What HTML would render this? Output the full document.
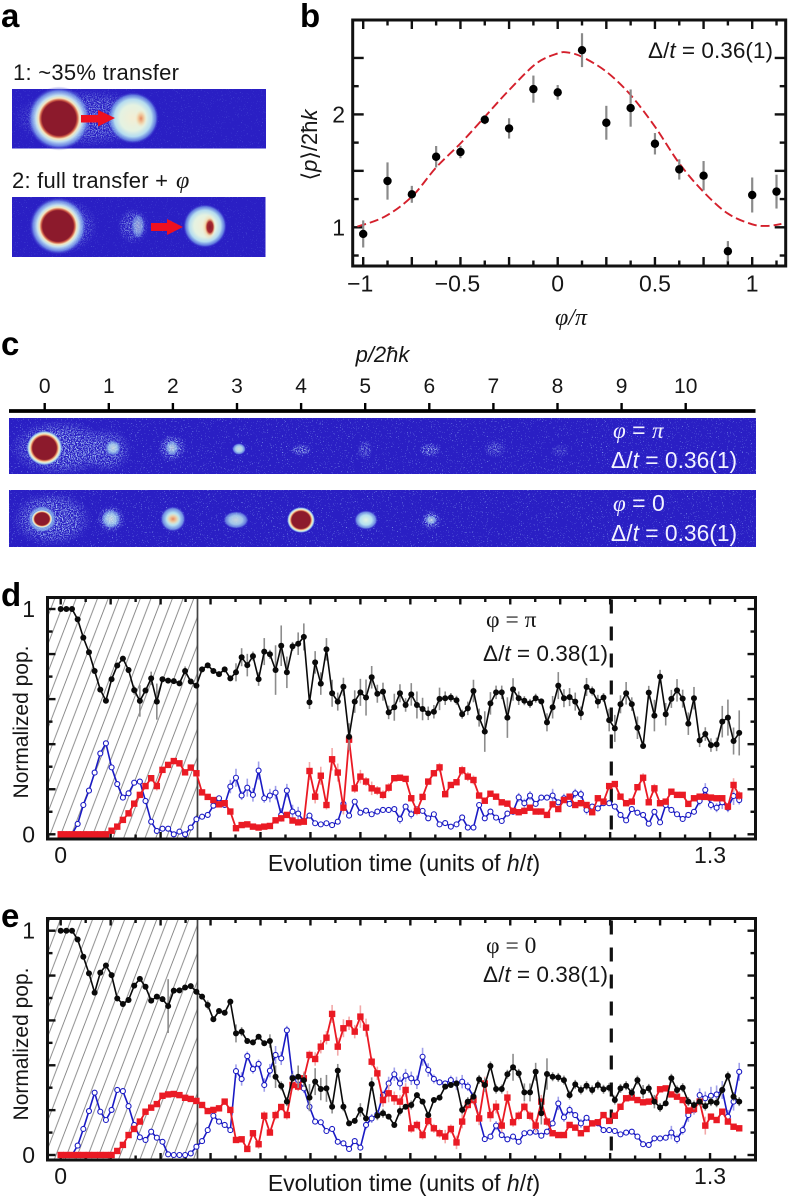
<!DOCTYPE html>
<html>
<head>
<meta charset="utf-8">
<title>Panels a-e</title>
<style>
html,body{margin:0;padding:0;background:#fff;}
svg{display:block;}
text{font-family:"Liberation Sans","DejaVu Sans",sans-serif;fill:#161616;}
.serif{font-family:"Liberation Serif","DejaVu Serif",serif;}
.plabel{font-weight:bold;font-size:33px;fill:#000;}
.it{font-style:italic;}
.white{fill:#f2f2ff;}
</style>
</head>
<body>
<svg id="fig" xmlns="http://www.w3.org/2000/svg" width="788" height="1197" viewBox="0 0 788 1197">
<defs>
<radialGradient id="core"><stop offset="0" stop-color="#8c1a2c"/><stop offset=".66" stop-color="#8c1a2c"/><stop offset=".72" stop-color="#d8704f"/><stop offset=".8" stop-color="#f8e8bc"/><stop offset=".88" stop-color="#bfe2ee"/><stop offset=".95" stop-color="#6f90e2" stop-opacity=".8"/><stop offset="1" stop-color="#2a1fc4" stop-opacity="0"/></radialGradient>
<radialGradient id="coreWide"><stop offset="0" stop-color="#8c1a2c"/><stop offset=".53" stop-color="#8c1a2c"/><stop offset=".58" stop-color="#d06048"/><stop offset=".64" stop-color="#f6e6be"/><stop offset=".72" stop-color="#c4e2f0"/><stop offset=".86" stop-color="#7c9eec" stop-opacity=".8"/><stop offset="1" stop-color="#2a1fc4" stop-opacity="0"/></radialGradient>
<radialGradient id="cream"><stop offset="0" stop-color="#f4eed4"/><stop offset=".5" stop-color="#e4f2e2"/><stop offset=".72" stop-color="#b4dcf0"/><stop offset=".88" stop-color="#6f92e6" stop-opacity=".8"/><stop offset="1" stop-color="#2a1fc4" stop-opacity="0"/></radialGradient>
<radialGradient id="pale"><stop offset="0" stop-color="#e2f4e4"/><stop offset=".5" stop-color="#b4e0f0"/><stop offset=".8" stop-color="#7fa6ea" stop-opacity=".8"/><stop offset="1" stop-color="#2a1fc4" stop-opacity="0"/></radialGradient>
<radialGradient id="halo"><stop offset="0" stop-color="#b8d4f6"/><stop offset=".6" stop-color="#a0bdf2" stop-opacity=".9"/><stop offset="1" stop-color="#8ea6ee" stop-opacity="0"/></radialGradient>
<radialGradient id="warm"><stop offset="0" stop-color="#e6885e"/><stop offset=".5" stop-color="#f2c596" stop-opacity=".8"/><stop offset="1" stop-color="#f6e8c0" stop-opacity="0"/></radialGradient>
<radialGradient id="dark"><stop offset="0" stop-color="#8c1a2c"/><stop offset=".6" stop-color="#a82a30"/><stop offset="1" stop-color="#e89a60" stop-opacity="0"/></radialGradient>
<filter id="speck" x="-10%" y="-10%" width="120%" height="120%"><feTurbulence type="fractalNoise" baseFrequency=".85" numOctaves="2" seed="4" result="n"/><feColorMatrix in="n" type="matrix" values="0 0 0 0 1 0 0 0 0 1 0 0 0 0 1 0 0 0 9 -4.5" result="t"/><feComposite in="SourceGraphic" in2="t" operator="in"/></filter>
<filter id="sparse" x="0" y="0" width="100%" height="100%"><feTurbulence type="fractalNoise" baseFrequency=".8" numOctaves="2" seed="9" result="n"/><feColorMatrix in="n" type="matrix" values="0 0 0 0 1 0 0 0 0 1 0 0 0 0 1 0 0 0 14 -9.6" result="t"/><feComposite in="SourceGraphic" in2="t" operator="in"/></filter>
<pattern id="hatch" patternUnits="userSpaceOnUse" width="10.7" height="28" patternTransform="translate(48 0)"><line x1="-5.35" y1="42" x2="5.35" y2="14" stroke="#808080" stroke-width=".9"/><line x1="5.35" y1="42" x2="16.05" y2="14" stroke="#808080" stroke-width=".9"/><line x1="-5.35" y1="14" x2="5.35" y2="-14" stroke="#808080" stroke-width=".9"/><line x1="5.35" y1="14" x2="16.05" y2="-14" stroke="#808080" stroke-width=".9"/></pattern>
</defs>

<text class="plabel" x="1" y="27">a</text>
<text class="plabel" x="300" y="27">b</text>
<text class="plabel" x="1" y="355">c</text>
<text class="plabel" x="1" y="606">d</text>
<text class="plabel" x="1" y="927">e</text>

<!-- panel a -->
<g>
<text x="13" y="80" font-size="22" textLength="166">1: ~35% transfer</text>
<rect x="12" y="89" width="254" height="59.500" fill="#2a1fc4"/>
<rect x="12" y="89" width="254" height="59.500" fill="#7f9bee" opacity=".35" filter="url(#sparse)"/>
<ellipse cx="85" cy="118" rx="72" ry="29" fill="url(#halo)" opacity=".8" filter="url(#speck)"/>
<ellipse cx="59" cy="118.500" rx="32" ry="32" fill="url(#coreWide)"/>
<ellipse cx="133" cy="118" rx="26" ry="26" fill="url(#cream)"/>
<ellipse cx="141" cy="118.500" rx="6" ry="9" fill="url(#warm)"/>
<polygon points="81,115 98,115 98,110 115,118 98,126.500 98,122.500 81,122.500" fill="#ee1020"/>

<text x="12" y="188" font-size="22" textLength="156">2: full transfer +</text>
<text class="serif it" x="176" y="188" font-size="24">φ</text>
<rect x="12" y="197" width="253.500" height="60" fill="#2a1fc4"/>
<rect x="12" y="197" width="253.500" height="60" fill="#7f9bee" opacity=".35" filter="url(#sparse)"/>
<ellipse cx="64" cy="226" rx="34" ry="28" fill="url(#halo)" opacity=".75" filter="url(#speck)"/>
<ellipse cx="58" cy="226" rx="29" ry="29" fill="url(#coreWide)"/>
<ellipse cx="133" cy="226" rx="16" ry="18" fill="url(#halo)" opacity=".7" filter="url(#speck)"/>
<ellipse cx="138" cy="226" rx="7" ry="13" fill="url(#pale)" opacity=".55"/>
<ellipse cx="205" cy="226" rx="22" ry="22" fill="url(#cream)"/>
<ellipse cx="209" cy="227" rx="7" ry="13" fill="url(#warm)"/>
<ellipse cx="210" cy="227" rx="5" ry="9" fill="url(#dark)"/>
<polygon points="151,223 167,223 167,219 183,227 167,235 167,231 151,231" fill="#ee1020"/>
</g>

<!-- panel c -->
<g>
<text class="it" x="382.500" y="362" font-size="22" text-anchor="middle">p/2ħk</text>
<rect x="9" y="418" width="747" height="56" fill="#2a1fc4"/>
<rect x="9" y="490" width="747" height="57" fill="#2a1fc4"/>
<rect x="9" y="418" width="747" height="56" fill="#8ca8f0" opacity=".8" filter="url(#sparse)"/>
<rect x="9" y="490" width="747" height="57" fill="#8ca8f0" opacity=".8" filter="url(#sparse)"/>
<g>
<ellipse cx="60" cy="448" rx="50" ry="28" fill="url(#halo)" filter="url(#speck)"/>
<ellipse cx="44.500" cy="448" rx="18" ry="17.500" fill="url(#core)"/>
<ellipse cx="106" cy="450" rx="26" ry="22" fill="url(#halo)" opacity=".8" filter="url(#speck)"/>
<ellipse cx="113" cy="448" rx="8" ry="8" fill="url(#pale)" opacity=".8"/>
<ellipse cx="172" cy="448" rx="14" ry="14" fill="url(#halo)" filter="url(#speck)"/>
<ellipse cx="172" cy="448" rx="7" ry="8" fill="url(#pale)" opacity=".7"/>
<ellipse cx="239" cy="449" rx="7" ry="6" fill="url(#pale)" opacity=".9"/>
<ellipse cx="301" cy="450" rx="11" ry="6" fill="url(#halo)" filter="url(#speck)"/>
<ellipse cx="365" cy="450" rx="8" ry="10" fill="url(#halo)" opacity=".6" filter="url(#speck)"/>
<ellipse cx="430" cy="450" rx="11" ry="7" fill="url(#halo)" filter="url(#speck)"/>
<ellipse cx="495" cy="449" rx="11" ry="9" fill="url(#halo)" opacity=".6" filter="url(#speck)"/>
<ellipse cx="560" cy="451" rx="9" ry="7" fill="url(#halo)" opacity=".4" filter="url(#speck)"/>
</g>
<g>
<ellipse cx="52" cy="519" rx="40" ry="27" fill="url(#halo)" filter="url(#speck)"/>
<ellipse cx="42" cy="519" rx="15" ry="14" fill="url(#pale)"/>
<ellipse cx="42" cy="519" rx="11" ry="9.500" fill="url(#core)"/>
<ellipse cx="111" cy="519" rx="14" ry="14" fill="url(#halo)" filter="url(#speck)"/>
<ellipse cx="111" cy="519" rx="10" ry="10" fill="url(#pale)" opacity=".8"/>
<ellipse cx="173" cy="519" rx="13" ry="13" fill="url(#pale)"/>
<ellipse cx="173" cy="519" rx="7" ry="6" fill="url(#warm)"/>
<ellipse cx="236" cy="520" rx="13" ry="9" fill="url(#pale)" opacity=".85"/>
<ellipse cx="301" cy="520" rx="14" ry="13" fill="url(#core)"/>
<ellipse cx="366" cy="520" rx="12" ry="10" fill="url(#pale)"/>
<ellipse cx="431" cy="520" rx="10" ry="10" fill="url(#halo)" filter="url(#speck)"/>
<ellipse cx="431" cy="520" rx="6" ry="5" fill="url(#pale)" opacity=".7"/>
</g>
<text class="white" x="613" y="438" font-size="23" xml:space="preserve"><tspan class="serif it white">φ</tspan><tspan class="white"> = </tspan><tspan class="serif it white">π</tspan></text>
<text class="white" x="611" y="468" font-size="22.800"><tspan class="white">Δ/</tspan><tspan class="it white">t</tspan><tspan class="white"> = 0.36(1)</tspan></text>
<text class="white" x="613" y="511" font-size="23" xml:space="preserve"><tspan class="serif it white">φ</tspan><tspan class="white"> = 0</tspan></text>
<text class="white" x="611" y="541" font-size="22.800"><tspan class="white">Δ/</tspan><tspan class="it white">t</tspan><tspan class="white"> = 0.36(1)</tspan></text>
<g id="c-axis"></g>
</g>

<g id="panel-b"></g>
<g id="panel-d"></g>
<g id="panel-e"></g>
</svg>

<script>
// ---- panel b data ----
const phiValues = [-1,-0.875,-0.75,-0.625,-0.5,-0.375,-0.25,-0.125,0,0.125,0.25,0.375,0.5,0.625,0.75,0.875,1,1.125];
const momentumValues = [0.941,1.41,1.292,1.625,1.667,1.953,1.876,2.224,2.195,2.569,1.926,2.056,1.74,1.513,1.457,0.788,1.286,1.316];
const momentumErrors = [0.12,0.165,0.075,0.095,0.055,0.04,0.09,0.12,0.065,0.15,0.15,0.165,0.095,0.09,0.13,0.09,0.155,0.15];
const fitPhi = [-1.03,-0.89,-0.75,-0.625,-0.5,-0.375,-0.25,-0.11,0,0.05,0.125,0.25,0.375,0.5,0.625,0.75,0.875,1,1.08,1.15];
const fitMomentum = [1.006,1.094,1.271,1.53,1.743,1.979,2.215,2.451,2.54,2.549,2.51,2.379,2.172,1.891,1.566,1.313,1.121,1.027,1.012,1.03];
const phiTickLabels = [-1,-0.5,0,0.5,1];
const momentumTickLabels = [1,2];

// ---- panel c axis ----
const orderLabels = [0,1,2,3,4,5,6,7,8,9,10];

// ---- panels d, e shared axes ----
const timeStep = 0.01132;
const timeTickLabels = [0,1.3];
const popTickLabels = [0,1];

// ---- panel d series (percent of population) ----
const dBlack = [100,100,100,95.4,87.3,80.8,72.5,64.2,59.3,68.8,
74.9,78,72.9,64,59.2,63.8,69.2,58.9,68.8,68.2,
68,67,72.5,67.8,66,73.2,75,72.5,71.1,73.2,
69.2,71.9,78.6,75.1,79.1,68.9,81.1,79.9,72.9,83.7,
71.9,83.4,84.6,87.6,58.6,76.3,66.9,82.1,62.6,58.9,
65.5,43.3,58.9,63,60.7,69.7,62.4,63.3,54.1,56.4,
62.6,57.4,62.1,57.4,55.6,53.7,54.4,60.1,60.4,60.7,
59.5,53.3,55.9,63.6,51.8,45.6,58.1,63,63,51.8,
64.3,60.4,59.3,58.1,60.4,59,49.7,56.4,66,60.4,
60.9,58.9,53.7,65.4,63.6,58.9,60.7,50.7,47,57.7,
62.6,57.8,47.3,39.2,62.9,52.7,70,53.3,60.1,63.9,
60.2,49.1,60.4,41.7,44.5,39.6,39.9,50,51.8,41.4,45];
const dRed = [0,0,0,0,0,0,0,0,0,1.6,
3.4,6.4,9.3,13.6,17.5,21.4,24.9,21.4,28.6,30.8,
32.5,31.5,27.5,29.6,27.1,18.6,16.6,15.2,13.3,13.8,
10.1,2.7,4.1,4.4,3.4,3,3.4,3.7,6.2,7.1,
8.6,6.1,5.3,5.6,28.1,16.7,26,13,33.3,27.4,
11.8,42,20.4,25.6,23.4,20.4,19.4,17.5,20.7,24.9,
25.1,24.6,16,10.4,16.6,23.4,27.1,29.7,17.8,21.9,
23.1,28.4,25.6,24.1,17.2,14.9,18,16.7,14.2,13.6,
10.4,9.8,10.4,11.8,10.1,10.1,8.6,13.3,11.2,15.2,
16.7,13,13.8,13,9.8,16,14.5,21.4,22.3,16.7,
13.8,14.5,20.9,25.1,14.2,20.4,13.8,14.5,18.9,17.5,
17.5,13.5,16,16.7,16.6,16.3,16,16,12.3,21.9,17.2];
const dBlue = [0,0,0,4.6,13,19.4,27.4,35.9,40.4,29.7,
22.3,16.3,18.2,22.9,23.4,14.8,5.6,1.5,2.5,2.5,
0,1.2,0,3,6.7,7.8,8.6,12.7,16,13,
21.2,25.1,17.2,20.7,17.5,28.3,16,17.2,18.5,8.6,
19.4,10.1,9.2,5.9,8.3,4.9,4.4,4.9,4.1,5.6,
13.5,8.3,14.5,9.6,10.5,8.9,10.1,10.8,10.8,11.2,
6.7,12.3,8.9,11.2,10.4,7.1,8.9,4.4,5,3.4,
4.4,7.5,3,3,13,7.1,10.1,7.4,5.9,9.2,
10,16.4,13.8,17.2,13.5,16.3,16.3,17.2,14.2,16,
13.5,18.2,17.8,10.8,12.3,11.5,13.8,13.8,12.3,8.6,
6.2,11.2,9.6,8.6,4.7,10,5.3,13,10.8,8.9,
6.8,8.6,10,14.8,19.7,13,11.8,14.2,11.8,17,15.2];
const dBlackErr = [0,0,0,1,1,1,1,1,1,1,
1,1,1,2,7,1,3,8,1,1,
1,1,2,1,1,1,1,1,1,1,
1,4,4,5,2,3,6,2,11,9,
7,2,5,6,3,5,5,5,6,4,
4,6,5,6,8,5,4,4,3,6,
4,3,5,6,5,3,3,5,3,2,
2,2,3,5,4,9,5,3,3,9,
5,3,2,2,2,1,4,5,6,4,
4,4,3,4,2,3,2,5,6,4,
5,3,5,1,3,7,3,5,4,5,
4,5,5,3,3,3,3,7,8,6,10];
const dRedErr = [0,0,0,0,0,0,0,0,0,1,
1,1,1,1,1,1,1,2,1,1,
1,1,1,1,1,1,1,1,1,1,
1,1,1,1,1,1,1,1,1,1,
1,1,1,1,4,3,4,2,5,4,
3,2,2,3,2,3,2,2,2,1,
1,1,1,2,1,1,1,2,1,1,
1,2,2,2,1,1,1,1,1,1,
1,1,1,1,1,1,1,1,1,1,
1,1,1,1,1,1,1,1,1,1,
1,1,1,2,1,2,1,1,1,1,
1,1,1,1,1,1,1,1,1,3,2];
const dBlueErr = [0,0,0,1,1,1,1,1,1,1,
1,1,1,1,1,1,1,1,1,1,
1,1,1,1,1,1,1,1,1,1,
3,4,2,4,3,4,2,3,3,3,
3,3,3,1,1,1,1,1,1,1,
1,1,1,1,1,1,1,1,1,1,
2,1,2,1,1,1,1,1,1,1,
1,1,1,1,1,1,1,1,1,1,
1,2,2,2,1,1,1,3,1,2,
1,2,2,2,1,1,1,1,1,1,
1,1,1,1,1,1,1,1,1,1,
1,1,1,2,3,2,2,3,2,4,2];

// ---- panel e series (percent of population) ----
const eBlack = [100,100,100,96.1,88.4,81,72.4,81.3,84.5,80.2,
69.8,67.3,69.1,75.5,78.5,75,68.8,70.6,69.5,66.4,
73.3,73.4,74.7,75.3,72.8,70.6,66.9,60.5,64.2,63.4,
68.4,54.2,55,50.8,50.2,52.7,49.8,50.8,34.9,30.8,
23.8,34.2,34.9,33.4,25.6,32.7,29.4,29.7,21.5,37.6,
21.5,14.1,15.2,20.1,16.3,31.6,17.5,18.6,17.1,13.4,
19.6,21.5,22.3,26.7,23.8,17.8,24.5,25.6,30.5,31.2,
31.9,20.1,23.8,26,33.7,31.2,39.7,29.4,29.4,36,
39.1,36.4,27.9,27.9,37.1,18.6,36.1,34.9,34.6,33.4,
26.7,31.5,29,30.9,29,31.2,29.3,30,24.5,29.7,
30.9,27.8,33.4,28.2,29.7,23.8,21.2,23,34.2,29,
30,23.8,22.3,23.8,21.8,23.8,23.3,29,35.2,26,23.8];
const eRed = [0,0,0,0,0,0,0,0,0,0,
1.8,4.5,8.9,11.6,14.9,19.3,21.1,22.7,26.4,27,
27.2,26.7,25.5,25,24.1,22.3,19.6,20.1,20.8,23.8,
20.1,6.7,7,2.7,9.7,4.8,17.5,10,17.8,21.4,
17.8,31.2,30.5,34.2,44.6,42.8,48.3,52.3,62.9,48.3,
56.5,58.7,55,61.7,56.8,41.6,36.4,24.5,27.5,25.3,
23.8,29,11.9,13.4,8.9,15.2,11.9,9.7,8.2,11.6,
5.6,14.9,22.3,24.5,16.3,31.9,17.8,21.5,13.1,25.6,
14.6,17.5,21.5,17.5,13.1,23.8,14.9,9.7,8.9,8.9,
13.4,12.2,9.7,11.6,14.1,14.6,17.8,15.2,17.5,21.5,
25.3,25.6,24.5,23.5,23.8,24.5,29.3,29.7,27,26,
24.5,19.8,20.5,23.8,13.1,17.1,15.6,19.3,14.9,12.6,11.9];
const eBlue = [0,0,0,4.2,11.6,19.6,27.8,19.3,15.6,20.1,
29,28.5,21.8,13.4,7.9,6.7,10.4,7.7,5.9,0.3,
0,0,0,0.7,3.7,6.2,11.1,17.5,14.9,13.4,
11.1,37.4,33.9,44.1,38.3,40.6,31.2,37.6,44.6,43.1,
55.6,34.5,33.4,29.7,21.5,14.9,14.6,10.7,11.6,5.9,
5.2,2.7,6.2,3.3,13.4,16.3,18.1,26.7,31.9,36,
31.9,35.4,34.2,32.4,43.8,37.9,33.9,32.4,31.9,33.4,
31.9,32.7,30.5,26,16.3,7.1,8.2,13.1,8.9,7,
8.2,5.9,9.7,10,10.4,8.6,10.4,14.1,23,16.8,
20.1,17.8,14.1,16.6,14.1,14.1,11.1,11.1,10.7,9.2,
10,10.4,8.2,4.8,4.5,7.4,7.4,7.7,10,7.1,
11.1,17.8,20,26.7,25.3,26.4,27,29,17.1,23.8,37.1];
const eBlackErr = [0,0,0,1,1,1,1,1,1,1,
1,1,1,1,1,1,1,1,1,12,
1,1,1,1,1,1,2,1,1,1,
1,4,2,1,1,1,1,3,5,2,
2,2,5,3,6,6,5,6,3,3,
2,1,1,3,1,3,2,2,1,1,
2,1,2,1,1,1,1,1,1,1,
1,2,2,2,2,3,2,2,2,2,
6,2,4,4,4,5,7,2,2,2,
2,2,2,2,2,2,2,2,2,2,
2,2,2,3,2,3,2,1,2,2,
2,2,2,2,2,2,2,2,2,2,2];
const eRedErr = [0,0,0,0,0,0,0,0,0,0,
1,1,1,1,1,1,1,1,1,1,
1,1,1,1,1,1,1,1,1,1,
1,1,1,1,1,2,2,1,2,1,
2,2,2,3,2,3,3,3,4,4,
4,3,3,5,4,2,3,3,4,3,
3,3,2,2,2,2,2,2,3,2,
3,3,2,2,3,3,3,3,3,3,
2,2,2,2,3,3,2,1,1,1,
1,1,1,1,1,1,1,1,1,1,
1,1,1,1,1,1,1,1,1,1,
1,1,2,2,4,1,1,1,1,1,1];
const eBlueErr = [0,0,0,1,1,1,1,1,1,1,
1,1,1,1,1,1,1,1,1,0,
0,0,0,1,1,1,1,1,1,1,
1,3,3,2,2,2,3,3,4,3,
2,3,3,2,2,1,1,1,1,1,
1,1,1,1,2,2,2,2,3,3,
3,3,3,3,4,3,2,1,1,2,
3,3,2,2,1,1,1,2,1,1,
1,1,1,1,1,1,1,1,3,2,
2,1,2,1,1,1,1,1,1,1,
1,1,1,1,1,1,1,1,3,2,
2,3,2,3,3,4,4,4,3,4,4];

const NS = 'http://www.w3.org/2000/svg';

function mark(tag, parent, name) {
  const el = document.createElementNS(NS, tag);
  
  
  parent.appendChild(el);
  return el;
}
function attrs(el, map) {
  for (const k in map) el.setAttribute(k, map[k]);
  return el;
}
function line(parent, name, x1, y1, x2, y2, stroke, w) {
  return attrs(mark('line', parent, name), {x1, y1, x2, y2, stroke, 'stroke-width': w});
}
function label(parent, name, x, y, str, anchor, size) {
  const t = attrs(mark('text', parent, name), {x, y, 'text-anchor': anchor, 'font-size': size});
  t.textContent = str;
  return t;
}
function fmt(v) { return String(v).replace('-', '\u2212'); }

// ---------- panel c axis ----------
(function () {
  const g = document.getElementById('c-axis');
  const xOrder = n => 44.7 + 64.1 * n;
  line(g, 'momentum-axis-line', 9, 411, 755.5, 411, '#000', 3.8);
  orderLabels.forEach(n => {
    line(g, 'momentum-tick-' + n, xOrder(n), 403, xOrder(n), 411, '#000', 2.4);
    label(g, 'momentum-tick-label-' + n, xOrder(n), 393, String(n), 'middle', 21);
  });
})();

// ---------- panel b ----------
(function () {
  const g = document.getElementById('panel-b');
  const L = 352.7, R = 785.7, T = 20, B = 266;
  const xs = v => 557.7 + 194.5 * v;
  const ys = v => 227.3 - 112.9 * (v - 1);
  for (let i = -8; i <= 9; i++) {
    const v = i * 0.125, x = xs(v), len = (i % 2 === 0) ? 9 : 5.5;
    line(g, 'x-tick-bottom', x, B, x, B - len, '#111', 2.4);
    line(g, 'x-tick-top', x, T, x, T + len, '#111', 2.4);
  }
  for (let i = 3; i <= 10; i++) {
    const v = i * 0.25, y = ys(v), len = (i % 2 === 0) ? 11 : 6;
    line(g, 'y-tick-left', L, y, L + len, y, '#111', 2.4);
    line(g, 'y-tick-right', R, y, R - len, y, '#111', 2.4);
  }
  const fr = mark('rect', g, 'plot-frame');
  attrs(fr, {x: L, y: T, width: R - L, height: B - T, fill: 'none', stroke: '#111', 'stroke-width': 3});

  phiTickLabels.forEach(v => label(g, 'x-tick-label', xs(v) + (v < 0 ? -3 : 0), 291.5, fmt(v), 'middle', 23));
  momentumTickLabels.forEach(v => label(g, 'y-tick-label', 345, ys(v) + 8, String(v), 'end', 23));

  const xt = label(g, 'x-axis-title', 571, 325, '\u03C6/\u03C0', 'middle', 24);
  xt.setAttribute('class', 'serif it');
  const yt = label(g, 'y-axis-title', 0, 0, '', 'middle', 22);
  yt.innerHTML = '\u27E8<tspan font-style="italic">p</tspan>\u27E9/2\u0127<tspan font-style="italic">k</tspan>';
  yt.setAttribute('transform', 'translate(317 145) rotate(-90)');

  // smooth path through the curve values
  const P = fitPhi.map((p, i) => [xs(p), ys(fitMomentum[i])]);
  let d = 'M' + P[0][0].toFixed(1) + ' ' + P[0][1].toFixed(1);
  for (let i = 0; i < P.length - 1; i++) {
    const p0 = P[Math.max(i - 1, 0)], p1 = P[i], p2 = P[i + 1], p3 = P[Math.min(i + 2, P.length - 1)];
    const c1x = p1[0] + (p2[0] - p0[0]) / 6, c1y = p1[1] + (p2[1] - p0[1]) / 6;
    const c2x = p2[0] - (p3[0] - p1[0]) / 6, c2y = p2[1] - (p3[1] - p1[1]) / 6;
    d += 'C' + c1x.toFixed(1) + ' ' + c1y.toFixed(1) + ' ' + c2x.toFixed(1) + ' ' + c2y.toFixed(1) + ' ' + p2[0].toFixed(1) + ' ' + p2[1].toFixed(1);
  }
  const fit = mark('path', g, 'fit-curve');
  attrs(fit, {d, fill: 'none', stroke: '#d4202c', 'stroke-width': 1.9, 'stroke-dasharray': '9 4'});

  phiValues.forEach((p, i) => {
    line(g, 'error-bar', xs(p), ys(momentumValues[i] - momentumErrors[i]), xs(p), ys(momentumValues[i] + momentumErrors[i]), '#8a8a8a', 2.2);
  });
  phiValues.forEach((p, i) => {
    const c = mark('circle', g, 'data-point');
    attrs(c, {cx: xs(p), cy: ys(momentumValues[i]), r: 4.2, fill: '#000'});
  });
  const dl = label(g, 'delta-annotation', 648, 58, '', 'start', 22.6);
  dl.innerHTML = '\u0394/<tspan font-style="italic">t</tspan> = 0.36(1)';
})();

// ---------- panels d & e ----------
function drawPop(id, cfg) {
  const g = document.getElementById(id);
  const L = 47.5, R = 755.5, T = cfg.top, B = cfg.bottom;
  const xs = t => 60.7 + 499.5 * t;
  const ys = v => cfg.y0 - (cfg.y0 - cfg.y1) * v / 100;
  const px = i => xs(i * timeStep);

  const h = mark('rect', g, 'hatched-region');
  attrs(h, {x: L, y: T, width: 197.5 - L, height: B - T, fill: 'url(#hatch)'});
  line(g, 'hatch-boundary', 197.5, T, 197.5, B, '#444', 1.7);

  for (let i = 0; i <= 27; i++) {
    const x = xs(i * 0.05), len = (i % 2 === 0) ? 7 : 4.5;
    line(g, 'x-tick-bottom', x, B, x, B - len, '#111', 2.4);
    line(g, 'x-tick-top', x, T, x, T + len, '#111', 2.4);
  }
  for (let i = 0; i <= 10; i++) {
    const y = ys(i * 10), len = (i % 2 === 0) ? 8 : 5;
    line(g, 'y-tick-left', L, y, L + len, y, '#111', 2.4);
    line(g, 'y-tick-right', R, y, R - len, y, '#111', 2.4);
  }
  const dash = line(g, 'dashed-time-marker', 611.3, T, 611.3, B, '#111', 3.2);
  dash.setAttribute('stroke-dasharray', '14 13');
  dash.setAttribute('stroke-dashoffset', '-2');

  const fr = mark('rect', g, 'plot-frame');
  attrs(fr, {x: L, y: T, width: R - L, height: B - T, fill: 'none', stroke: '#111', 'stroke-width': 3});

  popTickLabels.forEach(v => label(g, 'y-tick-label', 35, ys(v * 100) + 8, String(v), 'end', 23));
  timeTickLabels.forEach(v => label(g, 'x-tick-label', xs(v), cfg.tickBase, String(v), 'middle', 23));
  const xt = label(g, 'x-axis-title', 404, cfg.titleBase, '', 'middle', 23);
  xt.innerHTML = 'Evolution time (units of <tspan font-style="italic">h</tspan>/<tspan font-style="italic">t</tspan>)';
  const yt = label(g, 'y-axis-title', 0, 0, 'Normalized pop.', 'middle', 21);
  yt.setAttribute('transform', 'translate(28 ' + cfg.yTitle + ') rotate(-90)');

  const ph = label(g, 'phase-annotation', 486, cfg.phaseBase, cfg.phase, 'start', 23.5);
  ph.setAttribute('class', 'serif');
  const dl = label(g, 'delta-annotation', 483, cfg.deltaBase, '', 'start', 22.6);
  dl.innerHTML = '\u0394/<tspan font-style="italic">t</tspan> = 0.38(1)';

  function series(name, vals, errs, color, errColor, w, kind) {
    const sg = mark('g', g, name + '-series');
    vals.forEach((v, i) => {
      if (errs[i] > 0) line(sg, name + '-error-bar', px(i), ys(v - errs[i]), px(i), ys(v + errs[i]), errColor, 1.6);
    });
    const pl = mark('polyline', sg, name + '-line');
    attrs(pl, {points: vals.map((v, i) => px(i).toFixed(2) + ',' + ys(v).toFixed(2)).join(' '), fill: 'none', stroke: color, 'stroke-width': w});
    vals.forEach((v, i) => {
      if (kind === 'square') {
        const s = mark('rect', sg, name + '-point');
        attrs(s, {x: px(i) - 3.2, y: ys(v) - 3.2, width: 6.4, height: 6.4, fill: color});
      } else if (kind === 'open') {
        const c = mark('circle', sg, name + '-point');
        attrs(c, {cx: px(i), cy: ys(v), r: 2.5, fill: '#fff', stroke: color, 'stroke-width': 1.1});
      } else {
        const c = mark('circle', sg, name + '-point');
        attrs(c, {cx: px(i), cy: ys(v), r: 3, fill: color});
      }
    });
  }
  series('blue', cfg.blue, cfg.blueErr, '#1a1ac4', '#a0a0ea', 1.6, 'open');
  series('red', cfg.red, cfg.redErr, '#ea1a24', '#f2a8a8', 1.8, 'square');
  series('black', cfg.black, cfg.blackErr, '#0a0a0a', '#8c8c8c', 1.6, 'dot');
}

drawPop('panel-d', {top: 597.5, bottom: 839, y0: 834.3, y1: 609, tickBase: 863, titleBase: 871, yTitle: 722,
  phase: '\u03C6 = \u03C0', phaseBase: 627, deltaBase: 661,
  black: dBlack, red: dRed, blue: dBlue, blackErr: dBlackErr, redErr: dRedErr, blueErr: dBlueErr});
drawPop('panel-e', {top: 918.5, bottom: 1160, y0: 1155, y1: 930.7, tickBase: 1184, titleBase: 1191, yTitle: 1044,
  phase: '\u03C6 = 0', phaseBase: 953, deltaBase: 982,
  black: eBlack, red: eRed, blue: eBlue, blackErr: eBlackErr, redErr: eRedErr, blueErr: eBlueErr});
</script>
</body>
</html>
